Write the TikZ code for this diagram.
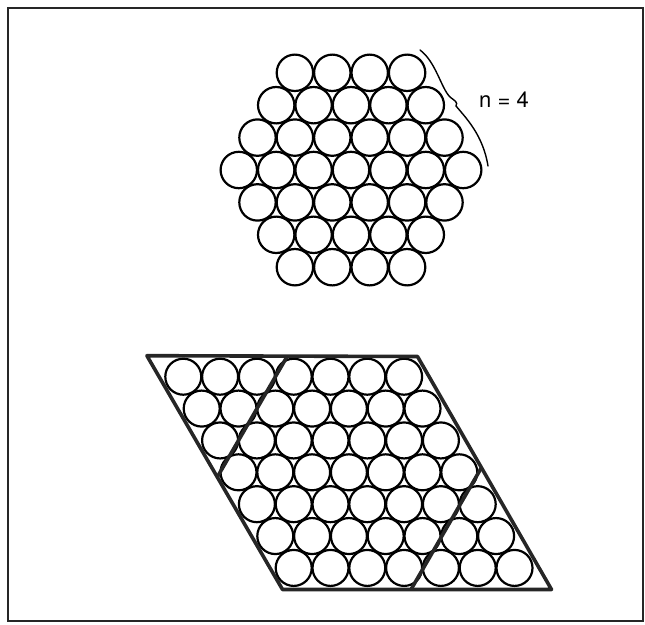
\documentclass[tikz,border=0pt]{standalone}
\usepackage{fontspec}
\setmainfont{TeX Gyre Heros}
\begin{document}
\begin{tikzpicture}[x=1pt,y=-1pt,
  ball/.style={circle,draw=black,line width=2.2pt,minimum size=36.4pt,inner sep=0pt},
  pball/.style={circle,draw=black,line width=2.2pt,minimum size=36pt,inner sep=0pt},
  frameline/.style={draw=black!85,line width=1.6pt},
  rhomb/.style={draw=black!85,line width=3.6pt,line join=round},
  brace/.style={draw=black,line width=1.4pt,line cap=round},
  lbl/.style={font=\fontsize{22}{26}\selectfont,inner sep=0pt}]
\useasboundingbox (0,0) rectangle (645,624);
% frame
\coordinate (f1) at (8,8);
\coordinate (f2) at (643,621);
\draw[frameline] (f1) rectangle (f2);
% hexagon of circles, n = 4
\foreach \j in {-3,...,3}{
  \pgfmathtruncatemacro\n{7-abs(\j)}
  \foreach \k in {1,...,\n}{
    \pgfmathsetmacro\xx{351+(\k-(\n+1)/2)*37.4}
    \pgfmathsetmacro\yy{170+\j*32.4}
    \node[ball] (h\j-\k) at (\xx,\yy) {};
  }
}
% brace and label
\coordinate (b0) at (420,50);
\coordinate (b1) at (450,97);
\coordinate (b2) at (456,106);
\coordinate (b3) at (488,166);
\draw[brace] (b0) .. controls (436,62) and (441,88) .. (b1)
  .. controls (455,101) and (458,102) .. (b2)
  .. controls (466,118) and (483,135) .. (b3);
\node[lbl] (n4) at (504,100) {n = 4};
% parallelogram of circles
\foreach \i in {0,...,6}{
  \foreach \j in {0,...,6}{
    \pgfmathsetmacro\xx{183.3+\i*36.8+\j*18.4}
    \pgfmathsetmacro\yy{376.7+\j*31.87}
    \node[pball] (p\i-\j) at (\xx,\yy) {};
  }
}
\coordinate (TL) at (146.9,355.7);
\coordinate (TR) at (417.5,356.5);
\coordinate (BR) at (551.5,589.5);
\coordinate (BL) at (282.5,589.5);
\draw[rhomb] (TL) -- (TR) -- (BR) -- (BL) -- cycle;
\coordinate (c1) at (287.4,356);
\coordinate (c2) at (217.1,477.4);
\coordinate (c3) at (411,589.5);
\coordinate (c4) at (481.5,467.5);
\draw[rhomb] (c1) -- (c2);
\draw[rhomb] (c3) -- (c4);
\end{tikzpicture}
\end{document}
